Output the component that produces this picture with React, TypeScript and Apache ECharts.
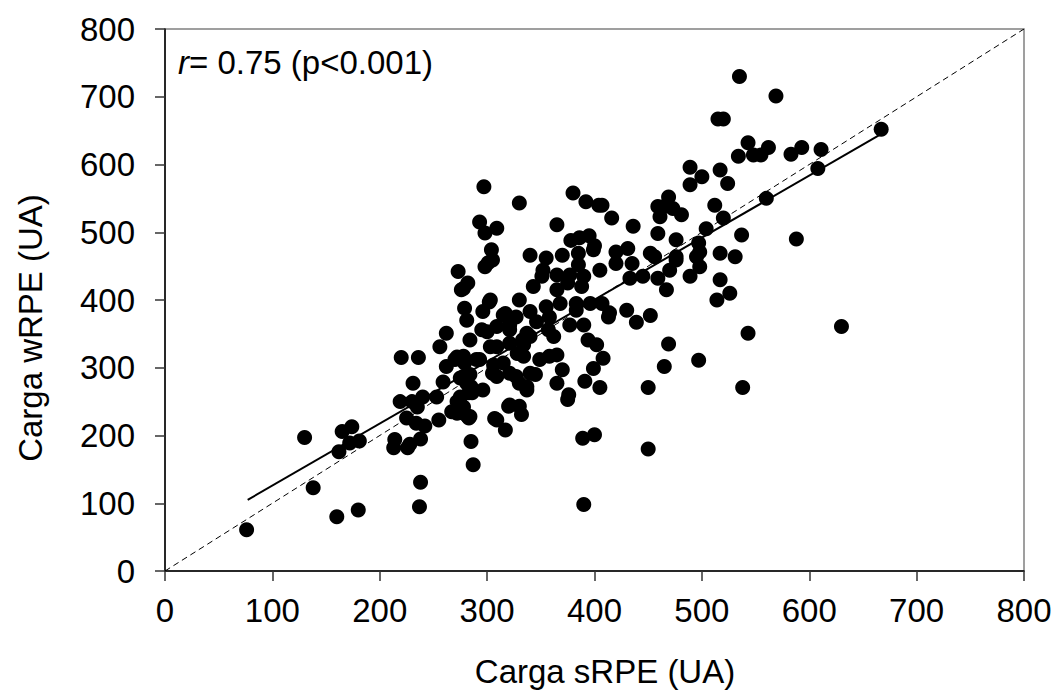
import React, { useEffect, useRef } from "react";
import * as echarts from "echarts";

// Carga sRPE (UA) vs Carga wRPE (UA)
const sRPE: number[] = [
  76, 130, 138, 160, 180, 165, 174, 162, 172, 181,
  214, 213, 226, 238, 225, 234, 242, 238, 237, 228,
  219, 230, 240, 253, 235, 231, 220, 236, 255, 267,
  283, 285, 287, 307, 259, 262, 256, 262, 272, 272,
  278, 284, 283, 275, 284, 279, 272, 285, 317,
  273, 282, 278, 279, 281, 301, 305, 302, 296, 315,
  300, 330, 340, 297, 293, 298, 309, 304, 298, 276,
  385, 399, 352, 351, 365, 385, 377, 390, 375, 388, 343, 303,
  317, 327, 340, 355, 368, 358, 346, 383, 396, 407, 413, 390, 377, 383,
  430, 439, 452, 469, 465, 497, 450, 450, 538, 543,
  394, 402, 408, 399, 391, 405, 389, 400, 376, 365, 370, 358, 365, 349,
  340, 345, 337, 327, 309, 306, 315, 334, 321, 334, 340, 303, 290, 278,
  270, 284, 295, 309, 321, 337, 357, 362, 278, 281, 286, 282, 309, 320,
  332, 365, 414,
  405, 420, 435, 433, 445, 459, 467, 452, 476, 495, 489, 498, 517, 514, 526, 517, 531,
  321, 333, 328, 309, 293, 305, 321, 330, 337, 296, 275, 330, 321,
  390, 278, 375,
  535, 569, 515, 520, 667, 543, 534, 548, 562, 555, 583, 593, 611, 608, 560,
  489, 500, 489, 517, 524, 512, 520, 504, 537, 588, 469, 459, 465, 481, 473,
  461, 459, 476, 436, 416, 407, 431, 420, 456, 476, 497, 498, 470, 630,
  330, 380, 392, 404, 365, 378, 386, 395, 400, 370, 355
];
const wRPE: number[] = [
  61, 197, 123, 80, 90, 206, 213, 176, 189, 192,
  194, 182, 182, 195, 226, 218, 214, 131, 95, 187,
  250, 250, 257, 257, 242, 277, 315, 315, 223, 235,
  226, 191, 157, 225, 279, 302, 331, 351, 250, 233,
  242, 228, 263, 285, 290, 307, 316, 272, 208,
  442, 425, 417, 388, 370, 455, 459, 397, 383, 378,
  353, 400, 466, 567, 515, 499, 506, 474, 449, 415,
  469, 474, 444, 435, 437, 452, 437, 435, 425, 420, 420, 400,
  380, 375, 383, 390, 395, 375, 368, 395, 395, 395, 375, 363, 363, 385,
  385, 367, 377, 335, 302, 311, 271, 180, 271, 351,
  341, 334, 314, 299, 280, 271, 196, 201, 260, 277, 297, 317, 319, 312,
  292, 290, 272, 287, 287, 304, 307, 317, 336, 334, 346, 331, 312, 317,
  312, 341, 356, 361, 356, 351, 356, 346, 287, 277, 263, 228, 223, 243,
  231, 415, 381,
  444, 454, 454, 432, 435, 432, 415, 469, 459, 464, 435, 449, 430, 400, 410, 469, 464,
  363, 341, 321, 331, 312, 292, 292, 277, 267, 267, 257, 243, 245,
  98, 233, 253,
  730, 701, 667, 667, 652, 632, 612, 614, 625, 614, 615, 625, 622, 594, 550,
  596, 582, 570, 592, 572, 540, 521, 505, 496, 490, 552, 538, 538, 526, 535,
  523, 498, 489, 509, 521, 540, 476, 471, 464, 464, 484, 471, 444, 361,
  543, 558, 545, 540, 511, 488, 492, 495, 480, 466, 462
];

// regression line (end points) and identity line
const fitX: number[] = [77, 666];
const fitY: number[] = [105, 644];
const idX: number[] = [0, 800];
const idY: number[] = [0, 800];

const xTicks: number[] = [0, 100, 200, 300, 400, 500, 600, 700, 800];
const yTicks: number[] = [0, 100, 200, 300, 400, 500, 600, 700, 800];

const xTitle = "Carga sRPE (UA)";
const yTitle = "Carga wRPE (UA)";
const rLabel = "r";
const statLabel = "= 0.75 (p<0.001)";

const FONT = 'Arial, "Liberation Sans", sans-serif';

export default function App() {
  const ref = useRef<HTMLDivElement>(null);
  useEffect(() => {
    if (!ref.current) return;
    const chart = echarts.init(ref.current, undefined, { renderer: "svg" });
    const points = sRPE.map((x, i) => [x, wRPE[i]]);
    const axisCommon = {
      type: "value" as const,
      interval: 100,
      splitLine: { show: false },
      axisLine: { show: true, lineStyle: { color: "#000", width: 1.5 } },
      axisTick: { show: true, inside: false, length: 10, lineStyle: { color: "#333", width: 1.5 } },
    };
    chart.setOption({
      animation: false,
      backgroundColor: "#fff",
      grid: {
        left: 165,
        top: 29,
        width: 859,
        height: 542,
        show: true,
        borderColor: "#808080",
        borderWidth: 1.5,
      },
      xAxis: {
        ...axisCommon,
        min: xTicks[0],
        max: xTicks[xTicks.length - 1],
        axisLabel: { fontSize: 33, color: "#000", fontFamily: FONT, margin: 23 },
      },
      yAxis: {
        ...axisCommon,
        min: yTicks[0],
        max: yTicks[yTicks.length - 1],
        axisLabel: { fontSize: 33, color: "#000", fontFamily: FONT, margin: 30 },
      },
      series: [
        {
          type: "line",
          data: idX.map((x, i) => [x, idY[i]]),
          symbol: "none",
          lineStyle: { color: "#000", width: 1, type: [6, 4] },
          z: 1,
        },
        {
          type: "line",
          data: fitX.map((x, i) => [x, fitY[i]]),
          symbol: "none",
          lineStyle: { color: "#000", width: 2 },
          z: 2,
        },
        {
          type: "scatter",
          data: points,
          symbol: "circle",
          symbolSize: 15,
          itemStyle: { color: "#000", opacity: 1 },
          z: 3,
        },
      ],
      graphic: [
        {
          type: "text",
          x: 605,
          y: 671,
          style: {
            text: xTitle,
            font: `33px ${FONT}`,
            fill: "#000",
            align: "center",
            verticalAlign: "middle",
          },
        },
        {
          type: "text",
          x: 30,
          y: 328,
          rotation: Math.PI / 2,
          style: {
            text: yTitle,
            font: `33px ${FONT}`,
            fill: "#000",
            align: "center",
            verticalAlign: "middle",
          },
        },
        {
          type: "text",
          x: 178,
          y: 62,
          style: {
            text: `{i|${rLabel}}{n|${statLabel}}`,
            rich: {
              i: { fontSize: 33, fontStyle: "italic", fontFamily: FONT, fill: "#000" },
              n: { fontSize: 33, fontFamily: FONT, fill: "#000" },
            },
            verticalAlign: "middle",
            align: "left",
          },
        },
      ],
    });
    return () => chart.dispose();
  }, []);
  return (
    <div
      ref={ref}
      style={{ position: "fixed", left: 0, top: 0, width: 1055, height: 691 }}
    />
  );
}
